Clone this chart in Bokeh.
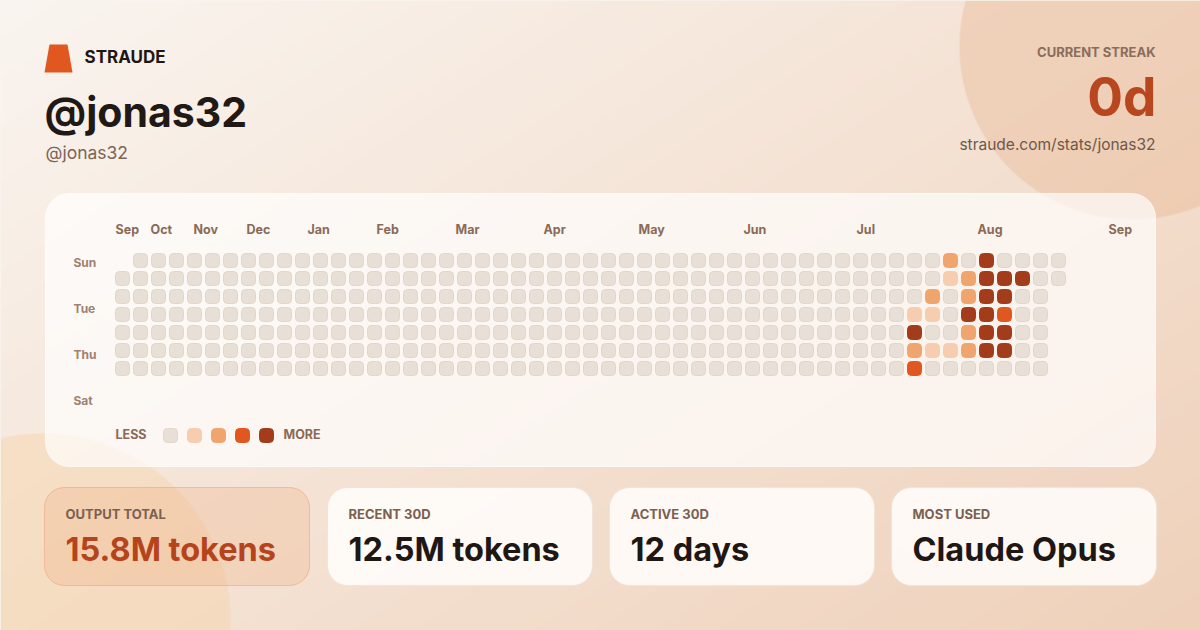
import numpy as np
from bokeh.plotting import figure
from bokeh.models import ColumnDataSource, Range1d, Label
from bokeh.core.properties import value
from bokeh.embed import file_html
from bokeh.resources import INLINE

# ---------------- data ----------------
brand = "STRAUDE"
handle = "@jonas32"
streak_label = "CURRENT STREAK"
streak_value = "0d"
profile_url = "straude.com/stats/jonas32"

months = ["Sep", "Oct", "Nov", "Dec", "Jan", "Feb", "Mar", "Apr", "May", "Jun", "Jul", "Aug", "Sep"]
month_pos = [0.0, 1.95, 4.33, 7.28, 10.67, 14.5, 18.89, 23.78, 29.06, 34.89, 41.17, 47.89, 55.17]

day_names = ["Sun", "Tue", "Thu", "Sat"]
day_rows = [0, 2, 4, 6]

grid_first_week = [1, 0, 0, 0, 0, 0, 0]
grid_last_week = [52, 52, 51, 51, 51, 51, 51]

active_week = [46, 48, 46, 47, 48, 49, 50, 45, 47, 48, 49, 44, 45, 47, 48, 49,
               44, 47, 48, 49, 44, 45, 46, 47, 48, 49, 44]
active_day = [0, 0, 1, 1, 1, 1, 1, 2, 2, 2, 2, 3, 3, 3, 3, 3,
              4, 4, 4, 4, 5, 5, 5, 5, 5, 5, 6]
active_level = [2, 4, 1, 2, 4, 4, 4, 2, 2, 4, 4, 1, 1, 4, 4, 3,
                4, 2, 4, 4, 2, 1, 1, 2, 4, 4, 3]

level_colors = ["#E8E0D6", "#F6CDAE", "#F0A56E", "#E0571F", "#A23C1B"]
legend_levels = [0, 1, 2, 3, 4]

stat_labels = ["OUTPUT TOTAL", "RECENT 30D", "ACTIVE 30D", "MOST USED"]
stat_values = ["15.8M tokens", "12.5M tokens", "12 days", "Claude Opus"]

# ---------------- layout ----------------
W, H = 1200, 630
FONT = "Inter"
BASE_FIX = 0.385  # Bokeh draws the alphabetic baseline this many em lower


def Y(y):
    return H - y


def TY(baseline, size):
    return Y(baseline - BASE_FIX * size)


p = figure(width=W, height=H, output_backend="svg", toolbar_location=None,
           x_range=Range1d(0, W), y_range=Range1d(0, H),
           x_axis_type=None, y_axis_type=None, min_border=0)
p.outline_line_color = None
p.grid.visible = False
p.background_fill_color = "#F6EBE1"
p.border_fill_color = "#F6EBE1"

# ---- background gradient + soft circles ----
yy, xx = np.mgrid[0:H, 0:W].astype(float) + 0.5
t = np.clip(0.55 * xx / W + 0.45 * yy / H, 0, 1)[..., None]
c0 = np.array([250, 245, 240], float)
c1 = np.array([239, 209, 186], float)
bg = c0 + (c1 - c0) * t


def overlay(img, cx, cy, r, col, alpha):
    d = np.sqrt((xx - cx) ** 2 + (yy - cy) ** 2)
    m = np.clip(r - d + 0.5, 0, 1)[..., None] * alpha
    return img * (1 - m) + np.array(col, float) * m


bg = overlay(bg, 1132, 46, 173, (232, 180, 142), 0.38)
bg = overlay(bg, 43, 620, 187, (246, 212, 168), 0.45)

img = np.empty((H, W), dtype=np.uint32)
view = img.view(dtype=np.uint8).reshape((H, W, 4))
view[..., 0] = bg[..., 0].astype(np.uint8)
view[..., 1] = bg[..., 1].astype(np.uint8)
view[..., 2] = bg[..., 2].astype(np.uint8)
view[..., 3] = 255
p.image_rgba(image=[img[::-1]], x=0, y=0, dw=W, dh=H)

# ---- header ----
p.patch(x=[44, 72, 67, 49], y=[Y(72), Y(72), Y(44), Y(44)], fill_color="#E0571F", line_color=None)


def label(x, baseline, text, size, color, bold=True, align="left"):
    p.add_layout(Label(x=x, y=TY(baseline, size), text=text, text_font=FONT, text_font_size=f"{size}px",
                       text_font_style="bold" if bold else "normal", text_color=color,
                       text_align=align, text_baseline="alphabetic"))


label(84, 63.5, brand, 17, "#1F1713")
label(44, 127, handle, 41, "#211915")
label(45, 158.3, handle, 17.5, "#7B6558", bold=False)
label(1155, 57, streak_label, 13, "#8A6D5C", align="right")
label(1156, 116.5, streak_value, 53, "#B8461E", align="right")
label(1155, 149.5, profile_url, 15.5, "#6E5849", bold=False, align="right")

# ---- main card ----
p.quad(left=45, right=1155, top=Y(193), bottom=Y(466), border_radius=24,
       fill_color="#FFFFFF", fill_alpha=0.68, line_color="#FFFFFF", line_alpha=0.7, line_width=1)

GX, GY, PITCH, CELL = 122, 260, 18, 14

lookup = {(w, d): lv for w, d, lv in zip(active_week, active_day, active_level)}
cells = dict(left=[], right=[], top=[], bottom=[], fill=[], line=[])
for d in range(7):
    for w in range(grid_first_week[d], grid_last_week[d] + 1):
        lv = lookup.get((w, d), 0)
        cx = GX + w * PITCH
        cy = GY + d * PITCH
        cells["left"].append(cx - CELL / 2)
        cells["right"].append(cx + CELL / 2)
        cells["top"].append(Y(cy - CELL / 2))
        cells["bottom"].append(Y(cy + CELL / 2))
        cells["fill"].append(level_colors[lv])
        cells["line"].append("#E0D6CA" if lv == 0 else level_colors[lv])
p.quad(left="left", right="right", top="top", bottom="bottom", source=ColumnDataSource(cells),
       fill_color="fill", line_color="line", line_width=1, border_radius=4)

# month labels
MS = 12.5
msrc = ColumnDataSource(dict(x=[115 + m * PITCH for m in month_pos],
                             y=[TY(234.3, MS)] * len(months), text=months))
p.text(x="x", y="y", text="text", source=msrc, text_font=value(FONT), text_font_size=value(f"{MS}px"),
       text_font_style="bold", text_color="#8A6A56", text_align="left", text_baseline="alphabetic")

# day labels
DS = 12
dsrc = ColumnDataSource(dict(x=[73] * len(day_names), y=[TY(266.3 + 23 * r, DS) for r in day_rows],
                             text=day_names))
p.text(x="x", y="y", text="text", source=dsrc, text_font=value(FONT), text_font_size=value(f"{DS}px"),
       text_font_style="bold", text_color="#9E8170", text_align="left", text_baseline="alphabetic")

# legend
label(115, 439, "LESS", 12.5, "#8A6A56")
lx = [170 + 24 * i for i in range(len(legend_levels))]
p.quad(left=[x - 7 for x in lx], right=[x + 7 for x in lx], top=Y(428), bottom=Y(442),
       fill_color=[level_colors[l] for l in legend_levels],
       line_color=["#E0D6CA"] + [level_colors[l] for l in legend_levels[1:]], border_radius=4)
label(283, 439, "MORE", 12.5, "#8A6A56")

# ---- stat cards ----
card_left = [44, 327, 609, 891]
for i, (lab, val) in enumerate(zip(stat_labels, stat_values)):
    l = card_left[i]
    if i == 0:
        p.quad(left=l, right=l + 265, top=Y(487), bottom=Y(585), border_radius=20,
               fill_color="#EFB083", fill_alpha=0.3, line_color="#EDA67C", line_alpha=0.6, line_width=1)
        vcol = "#B5441C"
    else:
        p.quad(left=l, right=l + 265, top=Y(487), bottom=Y(585), border_radius=20,
               fill_color="#FFFDFA", fill_alpha=0.88, line_color="#EFE3D8", line_alpha=0.9, line_width=1)
        vcol = "#1E1714"
    label(l + 21, 518.3, lab, 13, "#7A6050")
    label(l + 21, 562, val, 32.5, vcol)

open("out.html", "w").write(file_html(p, INLINE))
